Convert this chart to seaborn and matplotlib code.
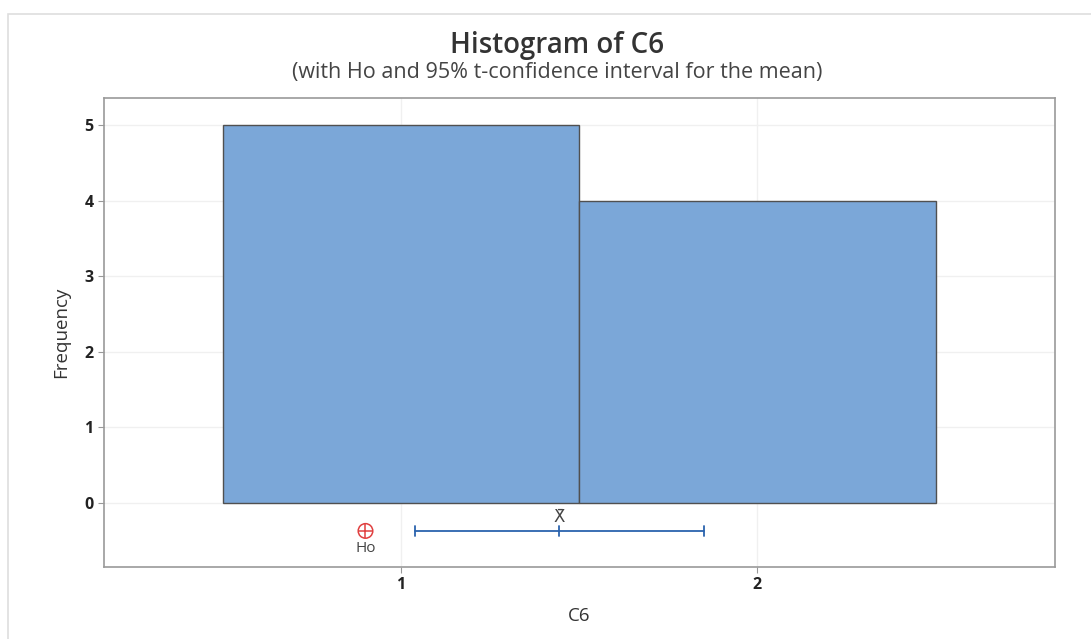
import numpy as np
import pandas as pd
import seaborn as sns
import matplotlib.pyplot as plt
from matplotlib.patches import Rectangle

# values of C6 (5 ones, 4 twos) and the bin edges
c6 = [1, 1, 1, 1, 1, 2, 2, 2, 2]
bin_edges = [0.5, 1.5, 2.5]

# hypothesized mean and t-interval
h0 = 0.90
x_bar = 1.444
ci_low, ci_high = 1.039, 1.849

sns.set_style('white')
plt.rcParams['font.family'] = ['Open Sans', 'DejaVu Sans']

fig = plt.figure(figsize=(10.91, 6.39), dpi=100)
ax = fig.add_axes([0.0953, 0.1127, 0.8713, 0.7339])

# light border around the graph window
fig.patches.append(Rectangle((8 / 1091, -0.1), 1.2, (639 - 14) / 639 + 0.1,
                             transform=fig.transFigure, fill=False,
                             edgecolor='#dedede', linewidth=1.2))

df = pd.DataFrame({'C6': c6})
sns.histplot(data=df, x='C6', bins=bin_edges, ax=ax, color='#7BA7D8',
             edgecolor='#505050', linewidth=1.0, alpha=1.0, zorder=2)

# grid
ax.set_axisbelow(True)
ax.grid(True, color='#f0f0f0', linewidth=1.0, zorder=0)

# Ho marker and CI bar
y_ci = -0.37
ax.plot([ci_low, ci_high], [y_ci, y_ci], color='#2B63AE', linewidth=1.3, zorder=3)
for xv in (ci_low, x_bar, ci_high):
    ax.plot([xv, xv], [y_ci - 0.07, y_ci + 0.07], color='#2B63AE', linewidth=1.3, zorder=3)
ax.text(x_bar, y_ci + 0.07, 'X\u0304', ha='center', va='bottom',
        fontsize=12, color='#444444', family=['DejaVu Sans'])
ax.scatter([h0], [y_ci], s=110, marker='o', facecolor='none', edgecolor='#E04040',
           linewidths=1.1, zorder=4)
ax.scatter([h0], [y_ci], s=110, marker='+', color='#E04040', linewidths=1.1, zorder=4)
ax.text(h0, y_ci - 0.13, 'Ho', ha='center', va='top', fontsize=11, color='#444444')

ax.set_xlim(0.166, 2.834)
ax.set_ylim(-0.847, 5.357)
ax.set_xticks([1, 2])
ax.set_yticks([0, 1, 2, 3, 4, 5])
ax.tick_params(axis='both', which='major', length=4, color='#999999',
               labelsize=11.5, labelcolor='#222222', direction='out',
               bottom=True, left=True)
for lab in ax.get_xticklabels() + ax.get_yticklabels():
    lab.set_fontweight('bold')

for s in ax.spines.values():
    s.set_color('#9a9a9a')
    s.set_linewidth(1.2)

ax.set_xlabel('C6', fontsize=13.5, color='#333333', labelpad=10)
ax.set_ylabel('Frequency', fontsize=13.5, color='#333333', labelpad=10)

fig.text(0.5105, 0.929, 'Histogram of C6', ha='center', va='center',
         fontsize=20, fontweight='semibold', color='#333333')
fig.text(0.5105, 0.886, '(with Ho and 95% t-confidence interval for the mean)',
         ha='center', va='center', fontsize=15.5, color='#444444')

plt.savefig('out.png', dpi=100)
